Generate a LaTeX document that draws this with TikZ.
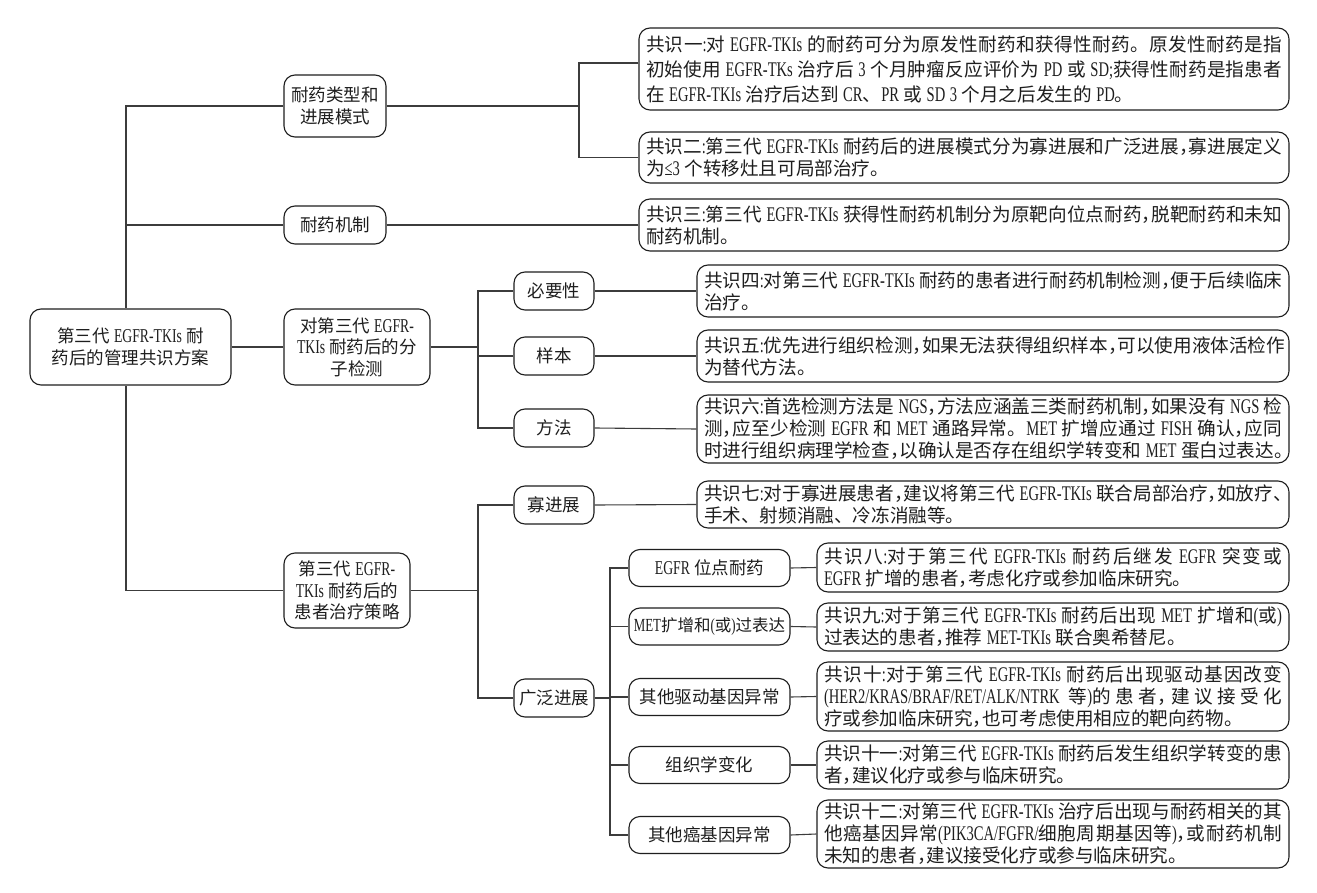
\documentclass[tikz,border=0pt]{standalone}
\usepackage{fontspec}
\setmainfont{Liberation Serif}[Scale=1.12, FakeStretch=0.7, WordSpace=1.2]
\newfontfamily\cjkfont{Noto Sans CJK SC}
\newXeTeXintercharclass\CJKcls
\newcount\cjkcnt
\cjkcnt="2E80
\loop
  \XeTeXcharclass\cjkcnt=\CJKcls
  \advance\cjkcnt by 1
\ifnum\cjkcnt<"A000 \repeat
\cjkcnt="FF00
\loop
  \XeTeXcharclass\cjkcnt=\CJKcls
  \advance\cjkcnt by 1
\ifnum\cjkcnt<"FFF0 \repeat
\XeTeXinterchartoks 0 \CJKcls = {\cjkfont}
\XeTeXinterchartoks 4095 \CJKcls = {\cjkfont}
\XeTeXinterchartoks \CJKcls 0 = {\rmfamily}
\XeTeXinterchartoks \CJKcls 4095 = {\rmfamily}
\XeTeXinterchartoks \CJKcls \CJKcls = {\hskip 0pt plus 1pt\relax}
\XeTeXinterchartokenstate=1
% last line of a text: natural width
\newcommand\lnb[1]{\mbox{\spaceskip=4.5pt\xspaceskip=4.5pt\relax#1}}
% other lines: justified to the full width
\newcommand\jl[1]{\makebox[\hsize][s]{\spaceskip=4.5pt plus 1pt\xspaceskip=4.5pt plus 1pt\relax#1}}
% narrow comma
\newcommand\cm{\makebox[9.5pt][l]{，}\hskip 0pt plus 1pt\relax}
\definecolor{lineclr}{HTML}{3C3C3C}
\definecolor{txtclr}{HTML}{1E1E1E}
\begin{document}
\begin{tikzpicture}[x=1pt,y=-1pt,
  box/.style={draw=txtclr, line width=1.1pt, rounded corners=11pt, inner xsep=4pt, inner ysep=2pt,
    align=center, text=txtclr, font=\fontsize{17.5}{21.5}\selectfont},
  cbox/.style={draw=txtclr, line width=1.1pt, rounded corners=11pt, inner xsep=7pt, inner ysep=2pt,
    align=left, text=txtclr, font=\fontsize{18.6}{22}\selectfont},
  conn/.style={draw=lineclr, line width=1.1pt}]
\useasboundingbox (0,0) rectangle (1317,893);
\fill[white] (0,0) rectangle (1317,893);

% level 1 and 2
\node[box, minimum width=201, minimum height=76] (root) at (130.5,347) {第三代 EGFR-TKIs 耐\\药后的管理共识方案};
\node[box, minimum width=102, minimum height=62] (A) at (335,106) {耐药类型和\\进展模式};
\node[box, minimum width=102, minimum height=38] (B) at (335,225) {耐药机制};
\node[box, minimum width=146, minimum height=76] (C) at (357,347) {对第三代 EGFR-\\TKIs 耐药后的分\\子检测};
\node[box, minimum width=126, minimum height=75] (D) at (347,590.5) {第三代 EGFR-\\TKIs 耐药后的\\患者治疗策略};

% level 3
\node[box, minimum width=80, minimum height=38] (N1) at (554,291) {必要性};
\node[box, minimum width=80, minimum height=38] (N2) at (554,356) {样本};
\node[box, minimum width=80, minimum height=38] (N3) at (554,428) {方法};
\node[box, minimum width=80, minimum height=38] (N4) at (554,505) {寡进展};
\node[box, minimum width=80, minimum height=38] (N5) at (554,698) {广泛进展};

% level 4
\node[box, minimum width=161, minimum height=37] (E1) at (709.5,568) {EGFR 位点耐药};
\node[box, minimum width=161, minimum height=37, inner xsep=2pt, font=\fontsize{16.5}{20}\selectfont] (E2) at (709.5,626.5) {MET扩增和(或)过表达};
\node[box, minimum width=161, minimum height=37] (E3) at (709.5,697) {其他驱动基因异常};
\node[box, minimum width=161, minimum height=37] (E4) at (709.5,765) {组织学变化};
\node[box, minimum width=161, minimum height=37] (E5) at (709.5,835) {其他癌基因异常};

% consensus boxes
\node[cbox, text width=636, minimum height=82, font=\fontsize{18.6}{25}\selectfont] (C1) at (964,69)
  {\jl{共识一:对 EGFR-TKIs 的耐药可分为原发性耐药和获得性耐药。原发性耐药是指}\\
   \jl{初始使用 EGFR-TKs 治疗后 3 个月肿瘤反应评价为 PD 或 SD;获得性耐药是指患者}\\
   \lnb{在 EGFR-TKIs 治疗后达到 CR、PR 或 SD 3 个月之后发生的 PD。}};
\node[cbox, text width=636, minimum height=51] (C2) at (964,157.5)
  {\jl{共识二:第三代 EGFR-TKIs 耐药后的进展模式分为寡进展和广泛进展\cm 寡进展定义}\\
   \lnb{为≤3 个转移灶且可局部治疗。}};
\node[cbox, text width=636, minimum height=52] (C3) at (964,225)
  {\jl{共识三:第三代 EGFR-TKIs 获得性耐药机制分为原靶向位点耐药\cm 脱靶耐药和未知}\\
   \lnb{耐药机制。}};
\node[cbox, text width=578, minimum height=52] (C4) at (993,291)
  {\jl{共识四:对第三代 EGFR-TKIs 耐药的患者进行耐药机制检测\cm 便于后续临床}\\
   \lnb{治疗。}};
\node[cbox, text width=578, minimum height=52] (C5) at (993,356)
  {\jl{共识五:优先进行组织检测\cm 如果无法获得组织样本\cm 可以使用液体活检作}\\
   \lnb{为替代方法。}};
\node[cbox, text width=578, minimum height=68] (C6) at (993,429)
  {\jl{共识六:首选检测方法是 NGS\cm 方法应涵盖三类耐药机制\cm 如果没有 NGS 检}\\
   \jl{测\cm 应至少检测 EGFR 和 MET 通路异常。MET 扩增应通过 FISH 确认\cm 应同}\\
   \lnb{时进行组织病理学检查\cm 以确认是否存在组织学转变和 MET 蛋白过表达。}};
\node[cbox, text width=578, minimum height=47] (C7) at (993,504.5)
  {\jl{共识七:对于寡进展患者\cm 建议将第三代 EGFR-TKIs 联合局部治疗\cm 如放疗、}\\
   \lnb{手术、射频消融、冷冻消融等。}};
\node[cbox, text width=458, minimum height=49] (C8) at (1053,567.5)
  {\jl{共识八:对于第三代 EGFR-TKIs 耐药后继发 EGFR 突变或}\\
   \lnb{EGFR 扩增的患者\cm 考虑化疗或参加临床研究。}};
\node[cbox, text width=458, minimum height=48] (C9) at (1053,627)
  {\jl{共识九:对于第三代 EGFR-TKIs 耐药后出现 MET 扩增和(或)}\\
   \lnb{过表达的患者\cm 推荐 MET-TKIs 联合奥希替尼。}};
\node[cbox, text width=458, minimum height=69] (C10) at (1053,696.5)
  {\jl{共识十:对于第三代 EGFR-TKIs 耐药后出现驱动基因改变}\\
   \jl{(HER2/KRAS/BRAF/RET/ALK/NTRK 等)的患者\cm 建议接受化}\\
   \lnb{疗或参加临床研究\cm 也可考虑使用相应的靶向药物。}};
\node[cbox, text width=458, minimum height=48] (C11) at (1053,765)
  {\jl{共识十一:对第三代 EGFR-TKIs 耐药后发生组织学转变的患}\\
   \lnb{者\cm 建议化疗或参与临床研究。}};
\node[cbox, text width=458, minimum height=68] (C12) at (1053,834)
  {\jl{共识十二:对第三代 EGFR-TKIs 治疗后出现与耐药相关的其}\\
   \jl{他癌基因异常(PIK3CA/FGFR/细胞周期基因等)\cm 或耐药机制}\\
   \lnb{未知的患者\cm 建议接受化疗或参与临床研究。}};

% junction columns
\coordinate (tk) at (126,0);
\coordinate (ja) at (579,0);
\coordinate (jc) at (478,0);
\coordinate (je) at (610,0);

% trunk
\draw[conn] (A.west) -| (tk |- root.north);
\draw[conn] (B.west) -- (tk |- B.west);
\draw[conn] (D.west) -| (tk |- root.south);
\draw[conn] (root.east) -- (C.west);

% branch A
\draw[conn] (A.east) -- (ja |- A.east);
\draw[conn] ([yshift=6pt]C1.west) -| (ja |- A.east);
\draw[conn] (C2.west) -| (ja |- A.east);
% branch B
\draw[conn] (B.east) -- (C3.west);
% branch C
\draw[conn] (C.east) -- (jc |- C.east);
\draw[conn] (N1.west) -| (jc |- C.east);
\draw[conn] (N3.west) -| (jc |- C.east);
\draw[conn] (N2.west) -- (jc |- N2.west);
\draw[conn] (N1.east) -- (C4.west);
\draw[conn] (N2.east) -- (C5.west);
\draw[conn] (N3.east) -- (C6.west);
% branch D
\draw[conn] (D.east) -- (jc |- D.east);
\draw[conn] (N4.west) -| (jc |- D.east);
\draw[conn] (N5.west) -| (jc |- D.east);
\draw[conn] (N4.east) -- (C7.west);
% broad progression
\draw[conn] (N5.east) -- (je |- N5.east);
\draw[conn] (E1.west) -| (je |- N5.east);
\draw[conn] (E5.west) -| (je |- N5.east);
\draw[conn] (E2.west) -- (je |- E2.west);
\draw[conn] (E3.west) -- (je |- E3.west);
\draw[conn] (E4.west) -- (je |- E4.west);
\draw[conn] (E1.east) -- (C8.west);
\draw[conn] (E2.east) -- (C9.west);
\draw[conn] (E3.east) -- (C10.west);
\draw[conn] (E4.east) -- (C11.west);
\draw[conn] (E5.east) -- (C12.west);
\end{tikzpicture}
\end{document}
